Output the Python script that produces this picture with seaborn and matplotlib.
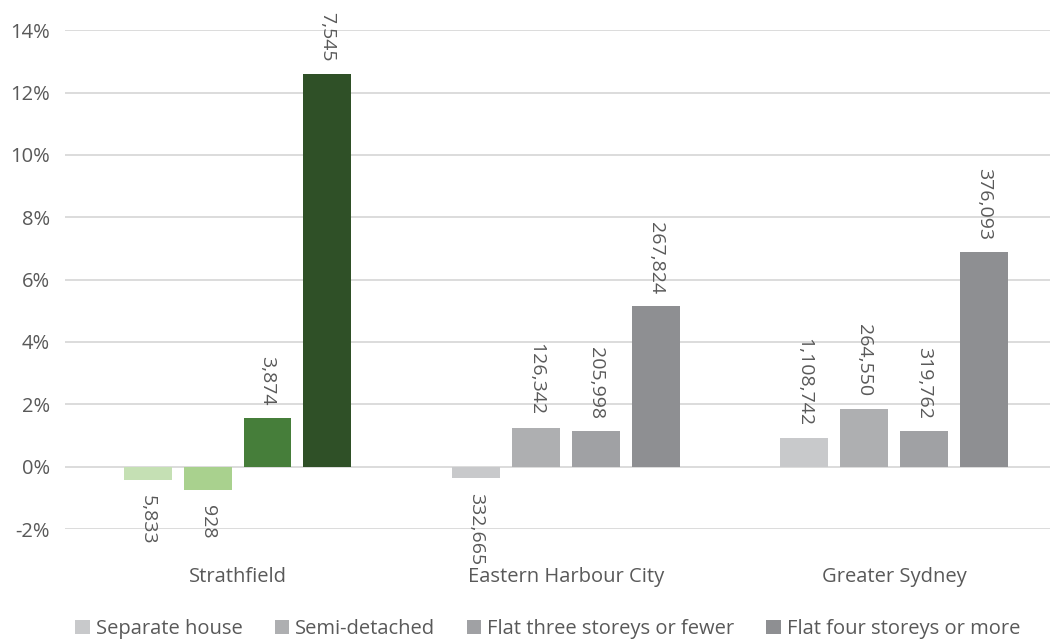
import matplotlib
matplotlib.use("Agg")
import matplotlib.pyplot as plt
import matplotlib.ticker as mticker
import seaborn as sns
import pandas as pd

regions = ["Strathfield", "Eastern Harbour City", "Greater Sydney"]
dwellings = ["Separate house", "Semi-detached", "Flat three storeys or fewer", "Flat four storeys or more"]

# percent change per dwelling type, one list per region
strathfield = [-0.42, -0.74, 1.57, 12.6]
eastern_harbour = [-0.36, 1.24, 1.14, 5.14]
greater_sydney = [0.91, 1.85, 1.14, 6.88]

# dwelling counts shown as labels
strathfield_n = ["5,833", "928", "3,874", "7,545"]
eastern_harbour_n = ["332,665", "126,342", "205,998", "267,824"]
greater_sydney_n = ["1,108,742", "264,550", "319,762", "376,093"]

grey_colors = ["#C8C9CB", "#AEAFB1", "#A0A1A4", "#8E8F92"]
green_colors = ["#C5E0B4", "#A9D18E", "#467E3A", "#2F5027"]

rows = []
for reg, vals, labs in zip(regions, [strathfield, eastern_harbour, greater_sydney],
                           [strathfield_n, eastern_harbour_n, greater_sydney_n]):
    for d, v, l in zip(dwellings, vals, labs):
        rows.append({"region": reg, "dwelling": d, "value": v, "label": l})
df = pd.DataFrame(rows)

sns.set_style("white")
plt.rcParams["font.family"] = ["Open Sans", "DejaVu Sans"]
text_col = "#595959"

fig = plt.figure(figsize=(10.52, 6.42), dpi=100)
ax = fig.add_axes([0.062, 0.176, 0.936, 0.777])

sns.barplot(data=df, x="region", y="value", hue="dwelling", order=regions,
            hue_order=dwellings, palette=grey_colors, width=0.73, gap=0.2,
            saturation=1, linewidth=0, ax=ax, legend=True, errorbar=None)

for i, cont in enumerate(ax.containers):
    cont.patches[0].set_facecolor(green_colors[i])
    labs = df[df["dwelling"] == dwellings[i]].set_index("region").loc[regions, "label"].tolist()
    for bar, lab in zip(cont.patches, labs):
        h = bar.get_height()
        xc = bar.get_x() + bar.get_width() / 2
        if h >= 0:
            ax.annotate(lab, (xc, h), xytext=(0, 9), textcoords="offset points",
                        rotation=270, ha="center", va="bottom", fontsize=14, color=text_col)
        else:
            ax.annotate(lab, (xc, h), xytext=(0, -11), textcoords="offset points",
                        rotation=270, ha="center", va="top", fontsize=14, color=text_col)

ax.set_ylim(-2, 14)
ax.set_xlim(-0.525, 2.475)
ax.yaxis.set_major_locator(mticker.MultipleLocator(2))
ax.yaxis.set_major_formatter(mticker.FuncFormatter(lambda v, p: f"{v:.0f}%"))
ax.grid(axis="y", color="#D9D9D9", linewidth=1.3)
ax.set_axisbelow(True)
for s in ax.spines.values():
    s.set_visible(False)
ax.tick_params(axis="both", length=0, labelsize=14.5, labelcolor=text_col)
ax.tick_params(axis="x", pad=27)
ax.tick_params(axis="y", pad=11)
ax.set_xlabel("")
ax.set_ylabel("")

ax.legend(loc="upper center", bbox_to_anchor=(0.49, -0.145), ncol=4, frameon=False,
          fontsize=14.5, labelcolor=text_col, handlelength=0.7, handleheight=0.7,
          handletextpad=0.3, columnspacing=1.6)

fig.savefig("out.png", dpi=100)
